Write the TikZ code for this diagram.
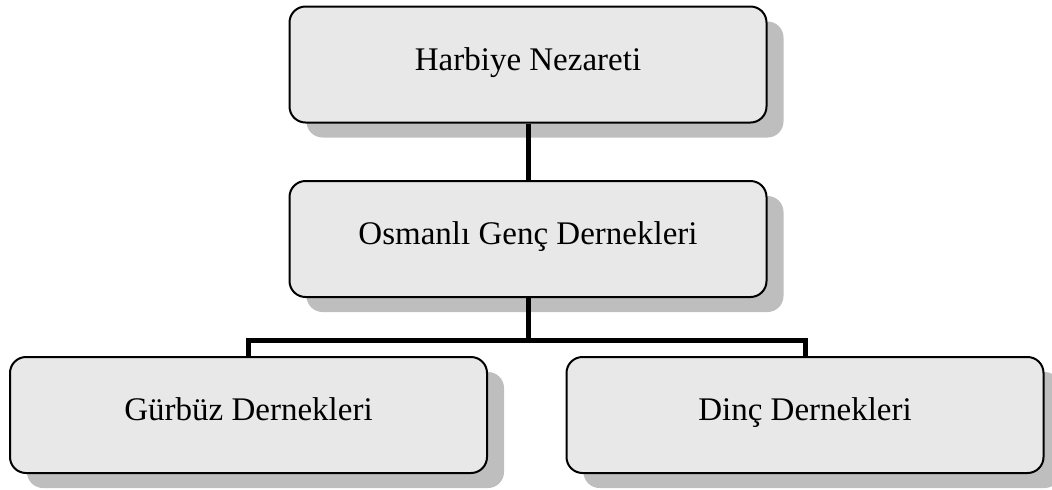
\documentclass[tikz,border=0pt]{standalone}
\usepackage{fontspec}
\setmainfont{Liberation Serif}
\usetikzlibrary{shadows}
\definecolor{boxfill}{HTML}{E8E8E8}
\definecolor{shadowgray}{HTML}{BEBEBE}
\tikzset{
  unit/.style={draw=black, line width=1pt, fill=boxfill, rounded corners=8pt,
    minimum width=238.5pt, minimum height=58pt, inner sep=0pt,
    text height=1.5ex, text depth=0.25ex,
    font=\fontsize{16.5}{20}\selectfont,
    drop shadow={shadow xshift=8.5pt, shadow yshift=-7.5pt, fill=shadowgray, opacity=1}},
  link/.style={line width=2.5pt}
}
\begin{document}
\begin{tikzpicture}[x=0.5pt, y=-0.5pt]
\useasboundingbox (0,0) rectangle (1052,489);
% Boxes
\node[unit] (harbiye) at (528,64.5) {Harbiye Nezareti};
\node[unit] (osmanli) at (528,239) {Osmanlı Genç Dernekleri};
\node[unit] (gurbuz) at (248.5,415) {Gürbüz Dernekleri};
\node[unit] (dinc) at (805,415) {Dinç Dernekleri};
% Connectors
\coordinate (bar) at (528,340);
\draw[link] (harbiye.south) -- (osmanli.north);
\draw[link] (osmanli.south) -- (bar);
\draw[link] (bar) -| (gurbuz.north);
\draw[link] (bar) -| (dinc.north);
\end{tikzpicture}
\end{document}
